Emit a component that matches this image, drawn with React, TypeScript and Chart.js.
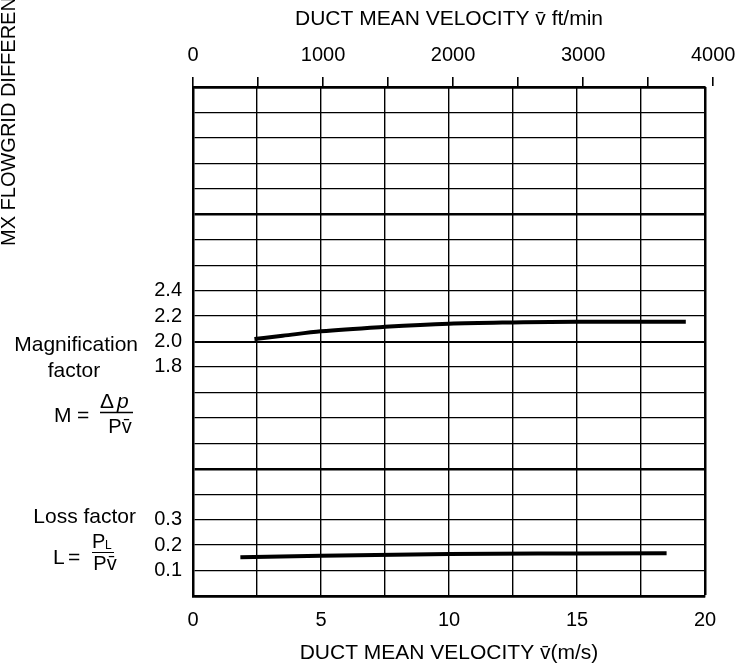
import React, { useEffect, useRef } from "react";
import { Chart, registerables } from "chart.js";

Chart.register(...registerables);

// ---- data ----
const FT_MIN_PER_MPS = 1 / 0.00508; // ft/min per m/s

// Magnification factor M vs duct mean velocity (m/s)
const mVelocity = [2.4, 3.5, 5, 7.5, 10, 12.5, 15, 17.5, 19.25];
const mValues = [2.02, 2.045, 2.08, 2.115, 2.14, 2.15, 2.155, 2.155, 2.155];

// Loss factor L vs duct mean velocity (m/s)
const lVelocity = [1.85, 5, 10, 15, 18.5];
const lValues = [0.152, 0.158, 0.165, 0.167, 0.168];

// tick labels
const mpsLabels = [0, 5, 10, 15, 20];
const ftMinLabels = [0, 1000, 2000, 3000, 4000];
const ftMinTicks = [0, 500, 1000, 1500, 2000, 2500, 3000, 3500, 4000];
const mTickLabels = [1.8, 2.0, 2.2, 2.4];
const lTickLabels = [0.1, 0.2, 0.3];

// grid: 20 rows; L occupies rows 0-5 (0.1 per row), M centred on row 10 (0.2 per row)
const ROWS = 20;
const rowOfL = (l: number) => l / 0.1;
const rowOfM = (m: number) => 10 + (m - 2.0) / 0.2;

const FONT = "'Liberation Sans', Arial, sans-serif";

const yLabelMap = new Map<number, string>();
mTickLabels.forEach((m) => yLabelMap.set(Math.round(rowOfM(m)), m.toFixed(1)));
lTickLabels.forEach((l) => yLabelMap.set(Math.round(rowOfL(l)), l.toFixed(1)));

const leftLabels = {
  id: "leftLabels",
  afterDraw(chart: any) {
    const ctx: CanvasRenderingContext2D = chart.ctx;
    ctx.save();
    ctx.fillStyle = "#000";
    ctx.strokeStyle = "#000";
    ctx.textBaseline = "middle";

    // rotated, cut-off axis label at far left
    ctx.save();
    ctx.font = `20px ${FONT}`;
    ctx.translate(9, 246);
    ctx.rotate(-Math.PI / 2);
    ctx.textAlign = "left";
    ctx.fillText("MX FLOWGRID DIFFERENTIAL", 0, 0);
    ctx.restore();

    ctx.font = `21px ${FONT}`;
    ctx.textAlign = "right";
    ctx.fillText("Magnification", 138, 345);
    ctx.textAlign = "center";
    ctx.fillText("factor", 74, 371);

    // M = Δp / Pv̄
    ctx.textAlign = "left";
    ctx.fillText("M", 54, 416);
    ctx.fillText("=", 77, 416);
    ctx.fillText("\u0394", 100, 402);
    ctx.font = `italic 21px ${FONT}`;
    ctx.fillText("p", 117, 402);
    ctx.font = `20px ${FONT}`;
    ctx.textAlign = "center";
    ctx.fillText("Pv\u0304", 120, 427);
    ctx.lineWidth = 1.5;
    ctx.beginPath();
    ctx.moveTo(100, 412.5);
    ctx.lineTo(133, 412.5);
    ctx.stroke();

    // Loss factor
    ctx.font = `21px ${FONT}`;
    ctx.textAlign = "right";
    ctx.fillText("Loss factor", 136, 517);
    ctx.textAlign = "left";
    ctx.fillText("L", 53, 558);
    ctx.fillText("=", 68, 558);
    ctx.font = `20px ${FONT}`;
    ctx.fillText("P", 92, 542);
    ctx.font = `12px ${FONT}`;
    ctx.fillText("L", 105, 546);
    ctx.font = `20px ${FONT}`;
    ctx.textAlign = "center";
    ctx.fillText("Pv\u0304", 105, 564);
    ctx.lineWidth = 1;
    ctx.beginPath();
    ctx.moveTo(92, 552.5);
    ctx.lineTo(114, 552.5);
    ctx.stroke();
    ctx.restore();
  },
};

export default function App() {
  const ref = useRef<HTMLCanvasElement | null>(null);

  useEffect(() => {
    document.body.style.margin = "0";
    const canvas = ref.current;
    if (!canvas) return;

    const chart = new Chart(canvas, {
      type: "line",
      data: {
        datasets: [
          {
            label: "Magnification factor",
            data: mVelocity.map((v, i) => ({ x: v, y: rowOfM(mValues[i]) })),
            borderColor: "#000",
            borderWidth: 4,
            pointRadius: 0,
            cubicInterpolationMode: "monotone",
            xAxisID: "x",
            yAxisID: "y",
          },
          {
            label: "Loss factor",
            data: lVelocity.map((v, i) => ({ x: v, y: rowOfL(lValues[i]) })),
            borderColor: "#000",
            borderWidth: 4,
            pointRadius: 0,
            cubicInterpolationMode: "monotone",
            xAxisID: "x",
            yAxisID: "y",
          },
        ],
      },
      options: {
        responsive: false,
        animation: false,
        devicePixelRatio: 1,
        layout: { padding: { left: 0, right: 49, top: 0, bottom: 0 } },
        plugins: {
          legend: { display: false },
          tooltip: { enabled: false },
        },
        scales: {
          x: {
            type: "linear",
            position: "bottom",
            min: 0,
            max: 20,
            afterBuildTicks: (s: any) => {
              const t = [];
              for (let v = 0; v <= 20; v += 2.5) t.push({ value: v });
              s.ticks = t;
            },
            ticks: {
              autoSkip: false,
              maxRotation: 0,
              padding: 12,
              color: "#000",
              font: { family: FONT, size: 20 },
              callback: (v: any) => (mpsLabels.includes(Number(v)) ? String(v) : ""),
            },
            grid: {
              color: "#000",
              drawTicks: false,
              lineWidth: (c: any) => (c.tick && c.tick.value === 20 ? 2.5 : 1.4),
            },
            border: { display: true, color: "#000", width: 2.5 },
            title: {
              display: true,
              text: "DUCT MEAN VELOCITY v\u0304(m/s)",
              color: "#000",
              font: { family: FONT, size: 21, lineHeight: 1.2 },
              padding: { top: 0, bottom: 0 },
            },
            afterFit: (s: any) => {
              s.height = 70;
            },
          },
          x2: {
            type: "linear",
            position: "top",
            min: 0,
            max: 20 * FT_MIN_PER_MPS,
            afterBuildTicks: (s: any) => {
              s.ticks = ftMinTicks.map((v) => ({ value: v }));
            },
            ticks: {
              autoSkip: false,
              maxRotation: 0,
              padding: 10,
              color: "#000",
              font: { family: FONT, size: 20 },
              callback: (v: any) => (ftMinLabels.includes(Number(v)) ? String(v) : ""),
            },
            grid: {
              color: "#000",
              drawOnChartArea: false,
              drawTicks: true,
              tickLength: 10,
              lineWidth: 1.6,
            },
            border: { display: true, color: "#000", width: 2.5 },
            title: {
              display: true,
              text: "DUCT MEAN VELOCITY v\u0304 ft/min",
              color: "#000",
              font: { family: FONT, size: 21, lineHeight: 1.2 },
              padding: { top: 7, bottom: 0 },
            },
            afterFit: (s: any) => {
              s.height = 87;
            },
          },
          y: {
            type: "linear",
            position: "left",
            min: 0,
            max: ROWS,
            afterBuildTicks: (s: any) => {
              const t = [];
              for (let r = 0; r <= ROWS; r++) t.push({ value: r });
              s.ticks = t;
            },
            ticks: {
              autoSkip: false,
              padding: 11,
              color: "#000",
              font: { family: FONT, size: 20 },
              callback: (v: any) => yLabelMap.get(Number(v)) ?? "",
            },
            grid: {
              color: "#000",
              drawTicks: false,
              lineWidth: (c: any) => {
                const v = c.tick ? c.tick.value : -1;
                if (v === 0 || v === 5 || v === 15 || v === 20) return 2.5;
                if (v === 10) return 2;
                return 1.3;
              },
            },
            border: { display: true, color: "#000", width: 2.5 },
            afterFit: (s: any) => {
              s.width = 193;
            },
          },
        },
      },
      plugins: [leftLabels],
    } as any);

    return () => chart.destroy();
  }, []);

  return (
    <div style={{ width: 754, height: 666, background: "#fff" }}>
      <canvas ref={ref} width={754} height={666} style={{ display: "block" }} />
    </div>
  );
}
